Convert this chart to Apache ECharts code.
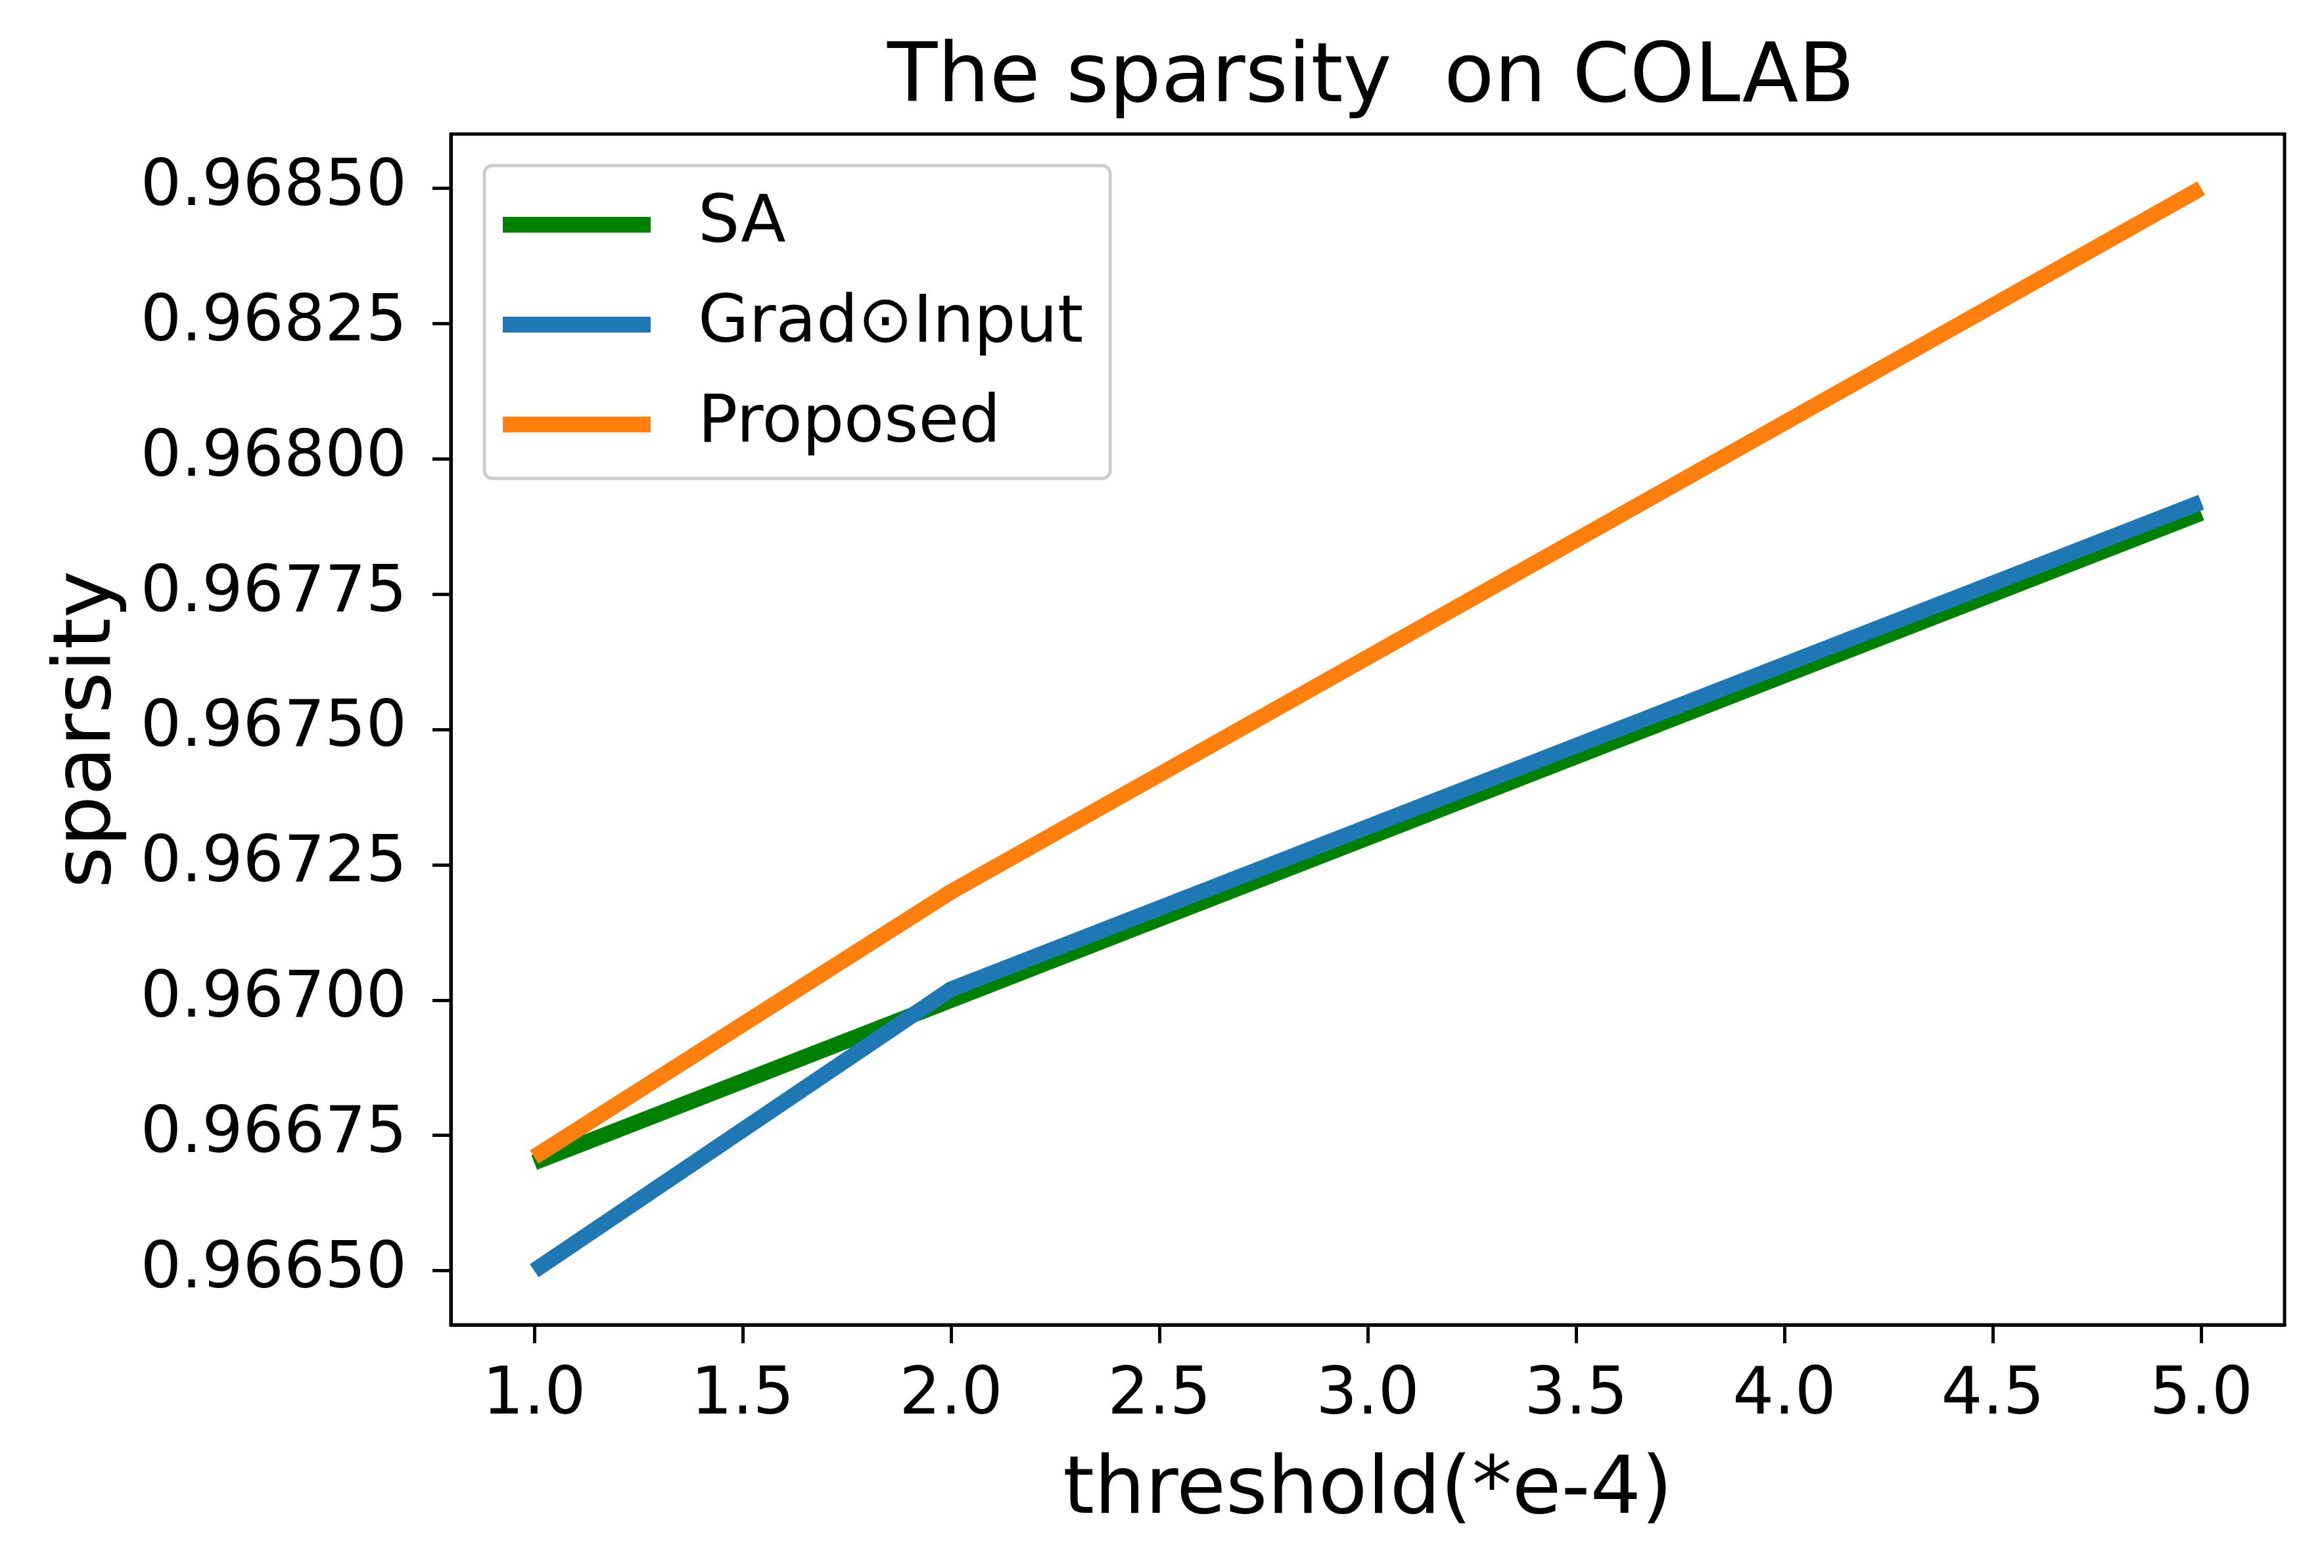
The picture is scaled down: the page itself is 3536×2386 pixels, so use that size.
<!DOCTYPE html>
<html>
<head>
<meta charset="utf-8">
<title>The sparsity on COLAB</title>
<script src="https://cdn.jsdelivr.net/npm/echarts@6/dist/echarts.min.js"></script>
<style>
  html, body { margin: 0; padding: 0; background: #fff; }
  #chart { width: 3536px; height: 2386px; }
</style>
</head>
<body>
<div id="chart"></div>
<script>
// thresholds (*e-4) and sparsity per method
var thresholds = [1, 2, 5];
var saValues = [0.96670, 0.96700, 0.96790];
var gradInputValues = [0.96650, 0.96702, 0.96792];
var proposedValues = [0.96671, 0.96720, 0.96850];

var xTicks = [1.0, 1.5, 2.0, 2.5, 3.0, 3.5, 4.0, 4.5, 5.0];
var yTicks = [0.96650, 0.96675, 0.96700, 0.96725, 0.96750, 0.96775, 0.96800, 0.96825, 0.96850];

var FONT = 'DejaVu Sans';

function pairs(xs, ys) {
    return xs.map(function (x, i) { return [x, ys[i]]; });
}

var myChart = echarts.init(document.getElementById('chart'), null, { renderer: 'canvas' });

var lineSeries = function (name, color, values) {
    return {
        name: name,
        type: 'line',
        data: pairs(thresholds, values),
        showSymbol: false,
        symbol: 'none',
        color: color,
        itemStyle: { color: color },
        lineStyle: { color: color, width: 24, cap: 'butt', join: 'round' },
        emphasis: { disabled: true }
    };
};

var option = {
    animation: false,
    backgroundColor: '#ffffff',
    title: {
        text: 'The sparsity  on COLAB',
        left: 2081,
        textAlign: 'center',
        top: 54,
        textStyle: { fontFamily: FONT, fontSize: 125, fontWeight: 'normal', color: '#000' }
    },
    legend: {
        orient: 'vertical',
        left: 737,
        top: 252,
        padding: [40, 41, 32, 28],
        itemGap: 52,
        itemWidth: 225,
        itemHeight: 24,
        icon: 'rect',
        backgroundColor: 'rgba(255,255,255,0.8)',
        borderColor: '#cccccc',
        borderWidth: 5,
        borderRadius: 12,
        selectedMode: false,
        textStyle: {
            fontFamily: FONT, fontSize: 100, color: '#000',
            lineHeight: 100, padding: [0, 0, 0, 67]
        },
        data: ['SA', 'Grad\u2299Input', 'Proposed']
    },
    grid: {
        left: 686,
        right: 60,
        top: 204,
        bottom: 370,
        show: true,
        borderColor: '#000',
        borderWidth: 5,
        containLabel: false,
        outerBoundsMode: 'none'
    },
    xAxis: {
        type: 'value',
        min: 0.8,
        max: 5.2,
        name: 'threshold(*e-4)',
        nameLocation: 'middle',
        nameGap: 193,
        nameTextStyle: { fontFamily: FONT, fontSize: 122, color: '#000' },
        axisLine: { show: true, lineStyle: { color: '#000', width: 5 } },
        axisTick: { show: true, length: 28, lineStyle: { color: '#000', width: 5 }, customValues: xTicks },
        axisLabel: {
            fontFamily: FONT, fontSize: 99, color: '#000', margin: 60,
            customValues: xTicks,
            formatter: function (v) { return v.toFixed(1); }
        },
        splitLine: { show: false }
    },
    yAxis: {
        type: 'value',
        min: 0.9664,
        max: 0.9686,
        name: 'sparsity',
        nameLocation: 'middle',
        nameGap: 490,
        nameTextStyle: { fontFamily: FONT, fontSize: 122, color: '#000' },
        axisLine: { show: true, lineStyle: { color: '#000', width: 5 } },
        axisTick: { show: true, length: 28, lineStyle: { color: '#000', width: 5 }, customValues: yTicks },
        axisLabel: {
            fontFamily: FONT, fontSize: 98, color: '#000', margin: 67,
            customValues: yTicks,
            formatter: function (v) { return v.toFixed(5); }
        },
        splitLine: { show: false }
    },
    series: [
        lineSeries('SA', '#008000', saValues),
        lineSeries('Grad\u2299Input', '#1f77b4', gradInputValues),
        lineSeries('Proposed', '#ff7f0e', proposedValues)
    ]
};

myChart.setOption(option);
</script>
</body>
</html>
